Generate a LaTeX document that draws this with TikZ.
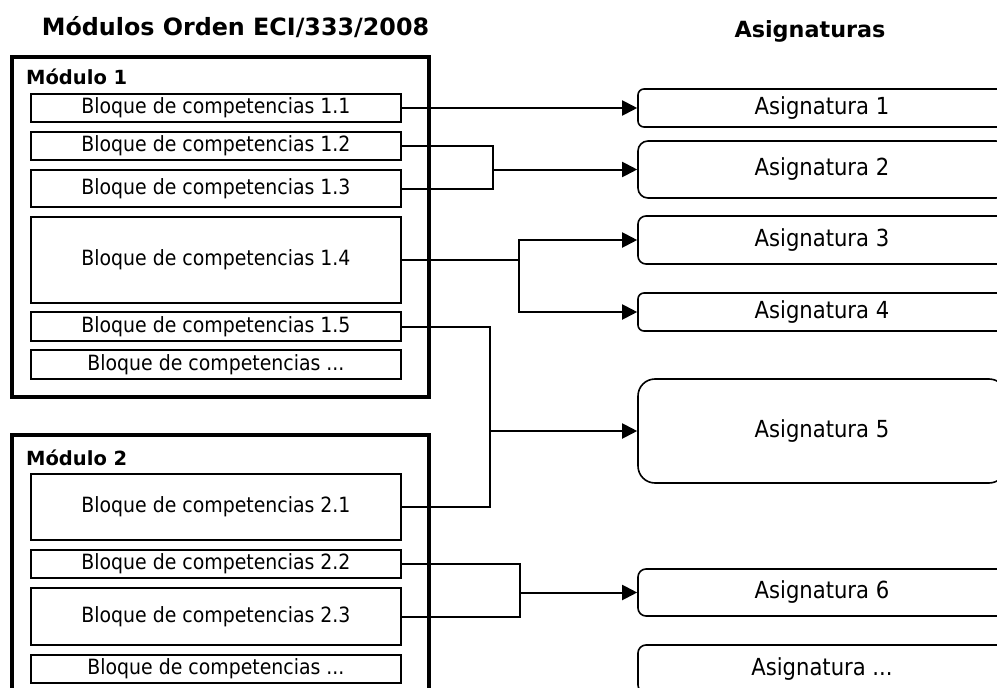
\documentclass[tikz,border=0pt]{standalone}
\usepackage{fontspec}
\setmainfont{DejaVu Sans}
\newfontfamily\condfont{DejaVu Sans Condensed}
\usetikzlibrary{arrows.meta}
\usetikzlibrary{positioning}
\usetikzlibrary{calc}

\tikzset{%
    titulo/.style={font={\fontsize{23.8}{28}\selectfont\bfseries},inner sep=0pt,anchor=base},
    modulo/.style={draw,line width=4.5pt,inner sep=0pt,minimum width=417pt},
    modtitulo/.style={font={\fontsize{19.5}{22}\selectfont\bfseries},inner sep=0pt,anchor=base west},
    bloque/.style={draw,fill=white,line width=1.6pt,inner sep=0pt,minimum width=370pt,
        font={\condfont\fontsize{21}{25}\selectfont}},
    asig/.style={draw,line width=1.6pt,rounded corners=#1,inner sep=0pt,minimum width=368pt,
        font={\condfont\fontsize{23.5}{28}\selectfont}},
    asig/.default={7pt},
    conector/.style={line width=2pt},
    flecha/.style={conector,-{Triangle[length=15pt,width=15pt]}},
}

\begin{document}
\begin{tikzpicture}[x=1pt,y=-1pt]
\path [use as bounding box,clip] (0,0) rectangle (997,688);
\node (titmod) [titulo] at (235.5,35) {Módulos Orden ECI/333/2008};
\node (titasig) [titulo,font={\fontsize{22.3}{26}\selectfont\bfseries}] at (810,37) {Asignaturas};
% modulos
\node (mod1) [modulo,minimum height=340pt] at (220.5,227) {};
\node (mod1t) [modtitulo] at (26,84) {Módulo 1};
\node (mod2) [modulo,minimum height=285pt] at (220.5,577.5) {};
\node (mod2t) [modtitulo] at (26,465) {Módulo 2};
% bloques
\node (b11) [bloque,minimum height=28pt] at (216,108) {Bloque de competencias 1.1};
\node (b12) [bloque,minimum height=28pt] at (216,146) {Bloque de competencias 1.2};
\node (b13) [bloque,minimum height=37pt] at (216,188.5) {Bloque de competencias 1.3};
\node (b14) [bloque,minimum height=86pt] at (216,260) {Bloque de competencias 1.4};
\node (b15) [bloque,minimum height=29pt] at (216,326.5) {Bloque de competencias 1.5};
\node (b1x) [bloque,minimum height=29pt] at (216,364.5) {Bloque de competencias ...};
\node (b21) [bloque,minimum height=66pt] at (216,507) {Bloque de competencias 2.1};
\node (b22) [bloque,minimum height=28pt] at (216,564) {Bloque de competencias 2.2};
\node (b23) [bloque,minimum height=57pt] at (216,616.5) {Bloque de competencias 2.3};
\node (b2x) [bloque,minimum height=28pt] at (216,669) {Bloque de competencias ...};
% asignaturas
\node (a1) [asig=6pt,minimum height=38pt] at (822,108) {Asignatura 1};
\node (a2) [asig=10pt,minimum height=57pt] at (822,169.5) {Asignatura 2};
\node (a3) [asig=8pt,minimum height=48pt] at (822,240) {Asignatura 3};
\node (a4) [asig=6pt,minimum height=38pt] at (822,312) {Asignatura 4};
\node (a5) [asig=17pt,minimum height=104pt] at (822,431) {Asignatura 5};
\node (a6) [asig=8pt,minimum height=47pt] at (822,592.5) {Asignatura 6};
\node (ax) [asig=8pt,minimum height=48pt] at (822,669) {Asignatura ...};
% uniones
\coordinate (j2) at (493,169.5);
\coordinate (j3) at (519,260);
\coordinate (j5) at (490,431);
\coordinate (j6) at (520,592.5);
\draw [flecha] (b11.east) -- (a1.west);
\draw [conector] (b12.east) -| (j2) |- (b13.east);
\draw [flecha] (j2) -- (a2.west);
\draw [conector] (b14.east) -- (j3);
\draw [flecha] (j3) |- (a3.west);
\draw [flecha] (j3) |- (a4.west);
\draw [conector] (b15.east) -| (j5) |- (b21.east);
\draw [flecha] (j5) -- (a5.west);
\draw [conector] (b22.east) -| (j6) |- (b23.east);
\draw [flecha] (j6) -- (a6.west);
\end{tikzpicture}
\end{document}
